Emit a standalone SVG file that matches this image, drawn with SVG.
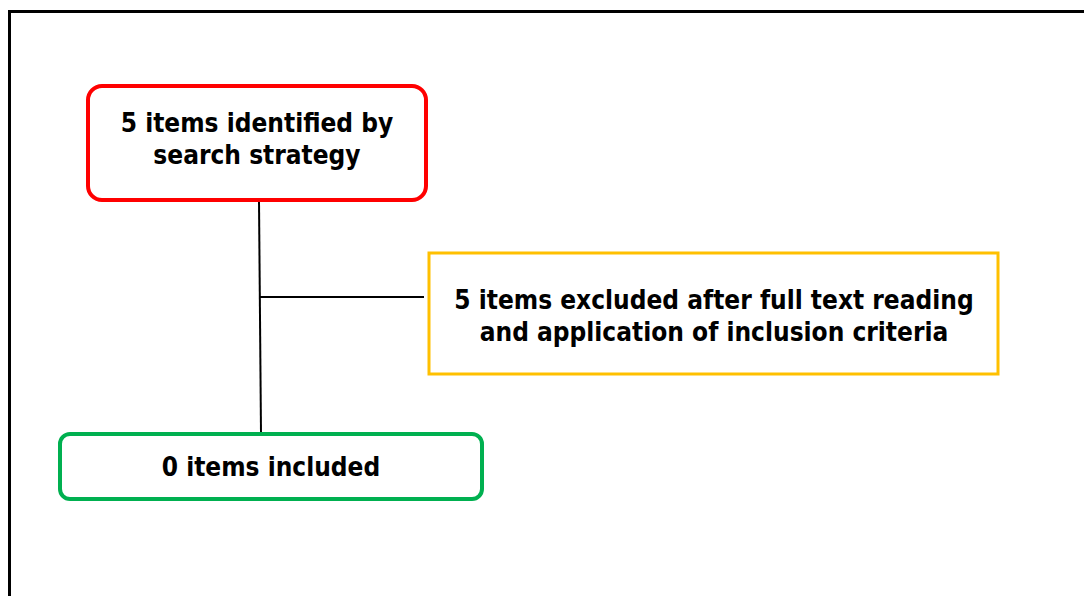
<svg xmlns="http://www.w3.org/2000/svg" width="1084" height="596" viewBox="0 0 1084 596">
<style>
.t{font-family:"DejaVu Sans Condensed","DejaVu Sans",Verdana,sans-serif;font-stretch:condensed;font-weight:bold;font-size:26px;fill:#000;text-anchor:middle}
.c{stroke:#000;stroke-width:2;fill:none}
</style>
<rect width="1084" height="596" fill="#fff"/>
<path d="M9.5,596 V11.5 H1084" fill="none" stroke="#000" stroke-width="3"/>
<g id="connectors">
<path class="c" d="M259,201 L261,433"/>
<path class="c" d="M259,297 H424"/>
</g>
<g id="n1">
<rect x="88" y="86" width="338" height="114" rx="14" fill="#fff" stroke="#FF0000" stroke-width="4"/>
<text class="t" x="257" y="132">5 items identified by</text>
<text class="t" x="257" y="164">search strategy</text>
</g>
<g id="n2">
<rect x="429" y="253" width="569" height="121" fill="#fff" stroke="#FFC000" stroke-width="3"/>
<text class="t" x="714" y="309">5 items excluded after full text reading</text>
<text class="t" x="714" y="341">and application of inclusion criteria</text>
</g>
<g id="n3">
<rect x="60" y="434" width="422" height="65" rx="10" fill="#fff" stroke="#00B050" stroke-width="4"/>
<text class="t" x="271" y="476">0 items included</text>
</g>
</svg>
